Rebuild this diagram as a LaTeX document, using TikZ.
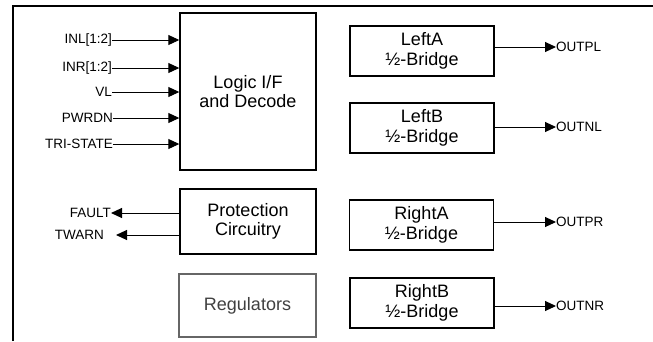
\documentclass[tikz,border=0pt]{standalone}
\usepackage{fontspec}
\setmainfont{Liberation Sans}
\usetikzlibrary{arrows.meta}
\begin{document}
\begin{tikzpicture}[x=1pt,y=-1pt,
  blk/.style={draw=black,line width=1.4pt,inner sep=0pt,align=center,
    font=\fontsize{18}{19.5}\selectfont},
  regblk/.style={blk,draw=black!60,text=black!75},
  lbl/.style={inner sep=0pt,font=\fontsize{13.5}{15}\selectfont},
  arr/.style={line width=1pt,-{Triangle[length=11pt,width=10pt]}},
  frame/.style={line width=2.4pt}]
\useasboundingbox (0,0) rectangle (653,341);
% frame
\coordinate (ftl) at (13,6);
\coordinate (ftr) at (653,6);
\coordinate (fbl) at (13,341);
\draw[frame] (fbl) -- (ftl) -- (ftr);
% blocks
\node[blk,minimum width=136pt,minimum height=157pt] (logic) at (248,91.5) {Logic I/F\\and Decode};
\node[blk,minimum width=136pt,minimum height=65pt] (prot) at (248,221.5) {Protection\\Circuitry};
\node[regblk,minimum width=137pt,minimum height=63pt] (reg) at (247.5,305.5) {Regulators};
\node[blk,minimum width=144pt,minimum height=50pt] (la) at (422,51) {LeftA\\½-Bridge};
\node[blk,minimum width=144pt,minimum height=50pt] (lb) at (422,128) {LeftB\\½-Bridge};
\node[blk,minimum width=144pt,minimum height=50pt] (ra) at (421.5,225) {RightA\\½-Bridge};
\node[blk,minimum width=144pt,minimum height=50pt] (rb) at (422,303) {RightB\\½-Bridge};
% inputs
\node[lbl,anchor=east] (inl) at (112,40) {INL[1:2]};
\node[lbl,anchor=east] (inr) at (112,68) {INR[1:2]};
\node[lbl,anchor=east] (vl) at (112,92) {VL};
\node[lbl,anchor=east] (pwrdn) at (113,118) {PWRDN};
\node[lbl,anchor=east] (tri) at (113,144) {TRI-STATE};
\foreach \n in {inl,inr,vl,pwrdn,tri}
  \draw[arr] (\n.east) -- (\n.east -| logic.west);
% protection outputs
\node[lbl,anchor=east] (fault) at (111,213) {FAULT};
\draw[arr] (prot.west |- fault) -- (fault.east);
\node[lbl,anchor=east] (twarn) at (104,235) {TWARN};
\coordinate (twtip) at (116,235);
\draw[arr] (prot.west |- twtip) -- (twtip);
% bridge outputs
\node[lbl,anchor=west] (outpl) at (556,47) {OUTPL};
\node[lbl,anchor=west] (outnl) at (556,127) {OUTNL};
\node[lbl,anchor=west] (outpr) at (556,222) {OUTPR};
\node[lbl,anchor=west] (outnr) at (556,306) {OUTNR};
\draw[arr] (la.east |- outpl) -- (outpl.west);
\draw[arr] (lb.east |- outnl) -- (outnl.west);
\draw[arr] (ra.east |- outpr) -- (outpr.west);
\draw[arr] (rb.east |- outnr) -- (outnr.west);
\end{tikzpicture}
\end{document}
